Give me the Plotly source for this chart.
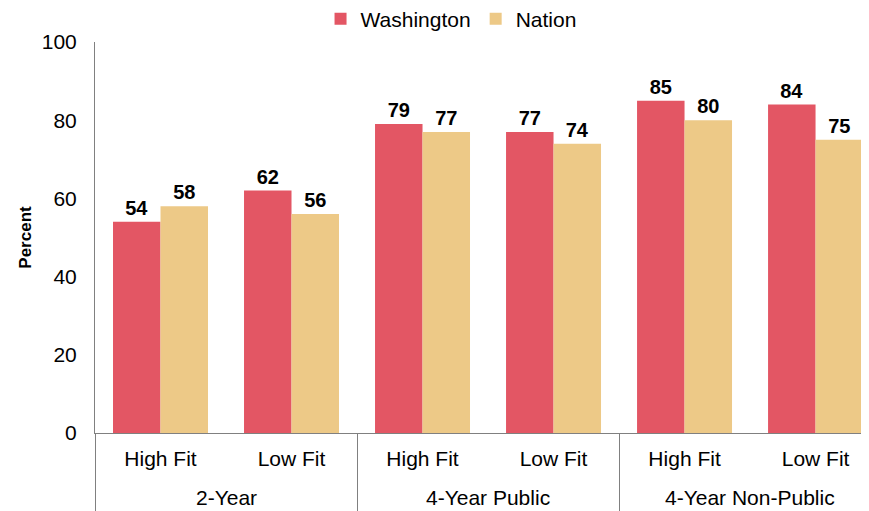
import plotly.graph_objects as go

groups = ["2-Year", "2-Year", "4-Year Public", "4-Year Public", "4-Year Non-Public", "4-Year Non-Public"]
fits = ["High Fit", "Low Fit", "High Fit", "Low Fit", "High Fit", "Low Fit"]
washington = [54, 62, 79, 77, 85, 84]
nation = [58, 56, 77, 74, 80, 75]
yticks = [0, 20, 40, 60, 80, 100]

FONT = "Liberation Sans, Arial, Helvetica, sans-serif"
RED = "#E35664"
TAN = "#EDC987"

# group row of the axis kept blank (it only sets divider length); names added as annotations
unique_groups = list(dict.fromkeys(groups))
blank = {g: "<br>" + "\u00a0" * (i + 1) for i, g in enumerate(unique_groups)}
group_keys = [blank[g] for g in groups]

fig = go.Figure()
for name, vals, col in [("Washington", washington, RED), ("Nation", nation, TAN)]:
    fig.add_trace(go.Bar(
        name=name, x=[group_keys, fits], y=vals, marker=dict(color=col, line=dict(width=0)),
        text=[str(v) for v in vals], textposition="outside", cliponaxis=False,
        textfont=dict(family=FONT, size=20, color="black", weight="bold"),
    ))

for g in unique_groups:
    idx = [i for i, gg in enumerate(groups) if gg == g]
    fig.add_annotation(x=sum(idx) / len(idx), xref="x", y=-0.1637, yref="paper",
                       yanchor="middle", xanchor="center", text=g, showarrow=False,
                       font=dict(size=21, color="black"))

fig.update_layout(
    width=861, height=503,
    margin=dict(l=87, r=0, t=34, b=78, autoexpand=False),
    paper_bgcolor="white", plot_bgcolor="white",
    barmode="group", bargap=0.275, bargroupgap=0,
    font=dict(family=FONT, size=21, color="black"),
    showlegend=True,
    legend=dict(orientation="h", x=0.46, xanchor="center", y=1.0588, yanchor="middle",
                yref="paper", font=dict(size=21), itemsizing="constant",
                traceorder="normal", bgcolor="rgba(0,0,0,0)"),
)
fig.update_xaxes(
    type="multicategory", range=[-0.5, 5.408], showline=True, linecolor="#808080",
    linewidth=1, showdividers=True, dividercolor="#808080", dividerwidth=1,
    ticks="", showgrid=False, tickfont=dict(size=21, color="black"),
    ticklabelstandoff=7, automargin=False,
)
fig.update_yaxes(
    range=[0, 100], tickvals=yticks, showline=True, linecolor="#808080", linewidth=1,
    showgrid=False, zeroline=False, ticks="", ticklabelstandoff=13, automargin=False,
    tickfont=dict(size=21, color="black"),
    title=dict(text="<b>Percent</b>", font=dict(size=17, color="black"), standoff=5),
)
fig.write_html("out.html")
